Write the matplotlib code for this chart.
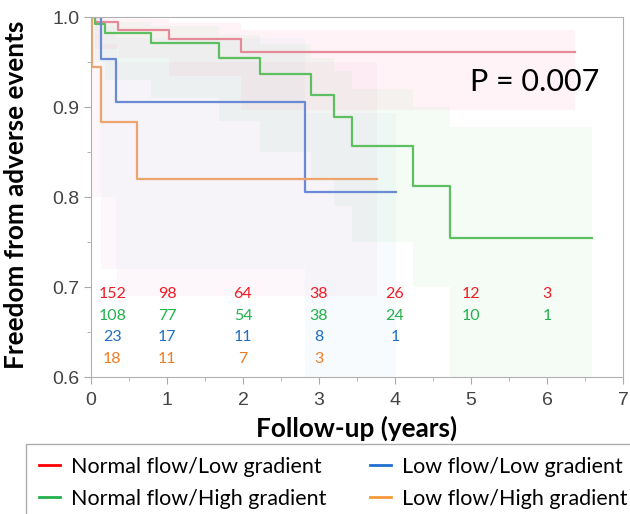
import numpy as np
import matplotlib
matplotlib.use("Agg")
import matplotlib.pyplot as plt
from matplotlib.lines import Line2D
from matplotlib.ticker import MultipleLocator

# Kaplan-Meier steps (time in years, survival)
red_t = [0, 0.05, 0.35, 1.03, 1.98, 6.37]
red_s = [1.0, 0.994, 0.986, 0.976, 0.961, 0.961]
red_lo = [1.0, 0.965, 0.955, 0.935, 0.897, 0.897]
red_hi = [1.0, 1.0, 0.998, 0.993, 0.986, 0.986]

green_t = [0, 0.05, 0.18, 0.79, 1.68, 2.23, 2.90, 3.20, 3.43, 4.24, 4.72, 6.59]
green_s = [1.0, 0.992, 0.982, 0.971, 0.955, 0.937, 0.913, 0.889, 0.857, 0.812, 0.755, 0.755]
green_lo = [1.0, 0.95, 0.93, 0.91, 0.885, 0.85, 0.82, 0.79, 0.75, 0.70, 0.60, 0.60]
green_hi = [1.0, 0.999, 0.995, 0.99, 0.98, 0.97, 0.955, 0.94, 0.92, 0.90, 0.878, 0.878]

blue_t = [0, 0.13, 0.33, 2.82, 4.01]
blue_s = [1.0, 0.953, 0.906, 0.806, 0.806]
blue_lo = [1.0, 0.80, 0.72, 0.60, 0.60]
blue_hi = [1.0, 0.99, 0.977, 0.893, 0.893]

orange_t = [0, 0.01, 0.13, 0.34, 3.76]
orange_lo = [1.0, 0.80, 0.72, 0.69, 0.69]
orange_hi = [1.0, 0.99, 0.97, 0.95, 0.95]
# orange curve steps (band steps differ slightly)
orange_line_t = [0, 0.01, 0.13, 0.60, 3.76]
orange_line_s = [1.0, 0.945, 0.883, 0.820, 0.820]

# numbers at risk
risk_x = [0.28, 1, 2, 3, 4, 5, 6]
risk_red = [152, 98, 64, 38, 26, 12, 3]
risk_green = [108, 77, 54, 38, 24, 10, 1]
risk_blue = [23, 17, 11, 8, 1]
risk_orange = [18, 11, 7, 3]

labels = ["Normal flow/Low gradient", "Normal flow/High gradient",
          "Low flow/Low gradient", "Low flow/High gradient"]

calib = ["Lato", "DejaVu Sans"]
arial = ["Liberation Sans", "DejaVu Sans"]

fig = plt.figure(figsize=(6.3, 5.14), dpi=100)
ax = fig.add_axes([91/630, 1-377/514, 532/630, 360/514])

bands = [
    (red_t, red_lo, red_hi, "#ff5f9a", 0.07),
    (green_t, green_lo, green_hi, "#6fdc7a", 0.07),
    (blue_t, blue_lo, blue_hi, "#5aaee6", 0.045),
    (orange_t, orange_lo, orange_hi, "#f090c8", 0.07),
]
for t, lo, hi, fc, a in bands:
    ax.fill_between(t, lo, hi, step="post", color=fc, alpha=a, lw=0)

lines = [
    (red_t, red_s, "#e58a98"),
    (green_t, green_s, "#5dbf5f"),
    (blue_t, blue_s, "#6b8ad6"),
    (orange_line_t, orange_line_s, "#eea56c"),
]
for t, s, lc in lines:
    ax.step(t, s, where="post", color=lc, lw=1.6)

ax.set_xlim(0, 7)
ax.set_ylim(0.6, 1.0)
ax.xaxis.set_major_locator(MultipleLocator(1))
ax.xaxis.set_minor_locator(MultipleLocator(0.5))
ax.yaxis.set_minor_locator(MultipleLocator(0.05))
ax.set_yticks([0.6, 0.7, 0.8, 0.9, 1.0])
ax.set_yticklabels(["0.6", "0.7", "0.8", "0.9", "1.0"])
ax.tick_params(which="major", length=5, color="#aaaaaa", labelcolor="#444444",
               labelsize=14)
ax.tick_params(axis="x", which="major", pad=6)
ax.tick_params(which="minor", length=3, color="#aaaaaa")
for lab in ax.get_xticklabels() + ax.get_yticklabels():
    lab.set_family(arial)
for sp in ax.spines.values():
    sp.set_color("#b0b0b0")

# at-risk table
rows = [(risk_red, 0.692, "#ee1c24"), (risk_green, 0.668, "#22b14c"),
        (risk_blue, 0.644, "#1f6fc6"), (risk_orange, 0.620, "#f07c22")]
for vals, yy, c in rows:
    for xx, v in zip(risk_x, vals):
        ax.text(xx, yy, str(v), color=c, fontsize=11.5, family=calib,
                ha="center", va="center")

ax.text(4.99, 0.928, "P = 0.007", fontsize=22, family=calib, ha="left", va="center")

fig.text(16.5/630, 1-195/514, "Freedom from adverse events", rotation=90,
         fontsize=18.8, fontweight="bold", family=calib, ha="center", va="center")
fig.text(357/630, 1-428/514, "Follow-up (years)", fontsize=18.8,
         fontweight="bold", family=calib, ha="center", va="center")

leg_cols = ["#ff0000", "#22b04a", "#1f6fd0", "#f59a3a"]
handles = [Line2D([], [], color=c, lw=2) for c in leg_cols]
leg = fig.legend(handles, labels, loc="upper left", ncol=2,
                 bbox_to_anchor=(26/630, 1-444/514), borderaxespad=0,
                 frameon=True, fancybox=False, edgecolor="#999999",
                 handlelength=1.0, handletextpad=0.5, columnspacing=2.0,
                 labelspacing=0.55, borderpad=0.6,
                 prop={"family": calib, "size": 15.5})
leg.get_frame().set_linewidth(1.0)

fig.savefig("out.png", dpi=100)
